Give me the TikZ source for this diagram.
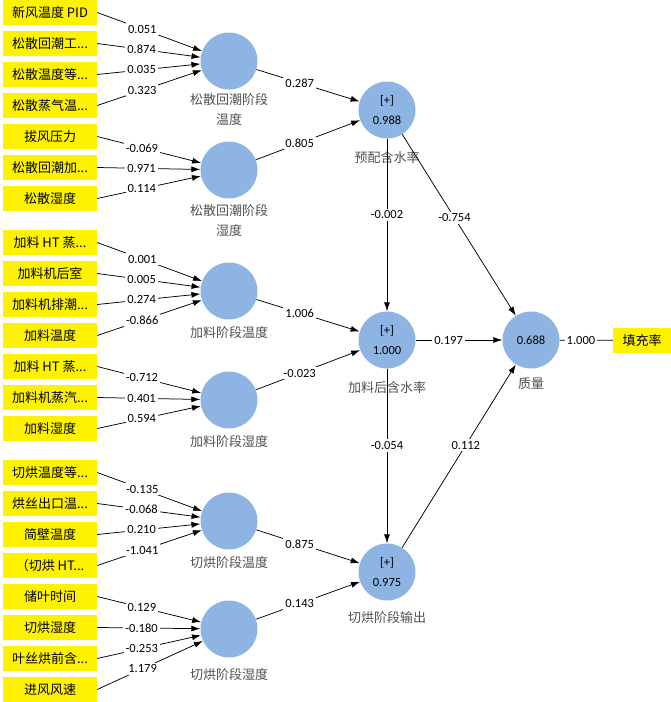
\documentclass[tikz,border=0pt]{standalone}
\usepackage{fontspec}
\setmainfont{Carlito}
\newfontfamily\cjk{Noto Sans CJK SC}
\usetikzlibrary{arrows.meta}
\definecolor{lvblue}{RGB}{142,180,227}
\definecolor{lblgray}{RGB}{80,80,80}
\begin{document}
\begin{tikzpicture}[x=1pt,y=-1pt,
  ind/.style={fill=yellow, minimum width=94pt, minimum height=25pt, inner sep=0pt, font=\cjk\fontsize{13}{15}\selectfont},
  lv/.style={circle, fill=lvblue, minimum size=57pt, inner sep=0pt, align=center, font=\fontsize{12.5}{20}\selectfont},
  coef/.style={fill=white, inner sep=2pt, font=\fontsize{12.5}{14}\selectfont},
  lvlabel/.style={text=lblgray, align=center, font=\cjk\fontsize{13}{20}\selectfont},
  arr/.style={-{Latex[length=9pt,width=6pt]}, line width=0.75pt},
  plain/.style={line width=0.75pt}]
\useasboundingbox (0,0) rectangle (671,702);

% indicator boxes
\node[ind] (a1) at (50,12.5) {新风温度 PID};
\node[ind] (a2) at (50,43.5) {松散回潮工...};
\node[ind] (a3) at (50,74.5) {松散温度等...};
\node[ind] (a4) at (50,105.5) {松散蒸气温...};
\node[ind] (a5) at (50,136.5) {拔风压力};
\node[ind] (a6) at (50,167.5) {松散回潮加...};
\node[ind] (a7) at (50,198.5) {松散湿度};

\node[ind] (b1) at (50,242.5) {加料 HT 蒸...};
\node[ind] (b2) at (50,273.5) {加料机后室};
\node[ind] (b3) at (50,304.5) {加料机排潮...};
\node[ind] (b4) at (50,335.5) {加料温度};
\node[ind] (b5) at (50,366.5) {加料 HT 蒸...};
\node[ind] (b6) at (50,397.5) {加料机蒸汽...};
\node[ind] (b7) at (50,428.5) {加料湿度};

\node[ind] (d1) at (50,472.5) {切烘温度等...};
\node[ind] (d2) at (50,503.5) {烘丝出口温...};
\node[ind] (d3) at (50,534.5) {简壁温度};
\node[ind] (d4) at (50,565.5) {（切烘 HT...};
\node[ind] (d5) at (50,596.5) {储叶时间};
\node[ind] (d6) at (50,627.5) {切烘湿度};
\node[ind] (d7) at (50,658.5) {叶丝烘前含...};
\node[ind] (d8) at (50,689.5) {进风风速};

% first-order constructs
\node[lv] (c1) at (229,61) {};
\node[lv] (c2) at (229,170) {};
\node[lv] (c3) at (229,291) {};
\node[lv] (c4) at (229,400) {};
\node[lv] (c5) at (229,521) {};
\node[lv] (c6) at (229,629) {};

\node[lvlabel] (l1) at (229,110) {松散回潮阶段\\温度};
\node[lvlabel] (l2) at (229,221) {松散回潮阶段\\湿度};
\node[lvlabel] (l3) at (229,333) {加料阶段温度};
\node[lvlabel] (l4) at (229,442) {加料阶段湿度};
\node[lvlabel] (l5) at (229,563) {切烘阶段温度};
\node[lvlabel] (l6) at (229,675) {切烘阶段湿度};

% second-order constructs
\node[lv] (m1) at (387,110) {[+]\\0.988};
\node[lv] (m2) at (387,340) {[+]\\1.000};
\node[lv] (m3) at (387,572) {[+]\\0.975};
\node[lv] (q) at (531,340) {0.688};
\node[ind, minimum width=58pt] (f) at (642,340.5) {填充率};

\node[lvlabel] (lm1) at (387,158) {预配含水率};
\node[lvlabel] (lm2) at (387,388) {加料后含水率};
\node[lvlabel] (lm3) at (387,618) {切烘阶段输出};
\node[lvlabel] (lq) at (531,384) {质量};

% indicator paths
\draw[arr] (a1.east) -- node[coef,pos=0.43]{0.051} (c1);
\draw[arr] (a2.east) -- node[coef,pos=0.43]{0.874} (c1);
\draw[arr] (a3.east) -- node[coef,pos=0.43]{0.035} (c1);
\draw[arr] (a4.east) -- node[coef,pos=0.43]{0.323} (c1);
\draw[arr] (a5.east) -- node[coef,pos=0.43]{-0.069} (c2);
\draw[arr] (a6.east) -- node[coef,pos=0.43]{0.971} (c2);
\draw[arr] (a7.east) -- node[coef,pos=0.43]{0.114} (c2);

\draw[arr] (b1.east) -- node[coef,pos=0.43]{0.001} (c3);
\draw[arr] (b2.east) -- node[coef,pos=0.43]{0.005} (c3);
\draw[arr] (b3.east) -- node[coef,pos=0.43]{0.274} (c3);
\draw[arr] (b4.east) -- node[coef,pos=0.43]{-0.866} (c3);
\draw[arr] (b5.east) -- node[coef,pos=0.43]{-0.712} (c4);
\draw[arr] (b6.east) -- node[coef,pos=0.43]{0.401} (c4);
\draw[arr] (b7.east) -- node[coef,pos=0.43]{0.594} (c4);

\draw[arr] (d1.east) -- node[coef,pos=0.43]{-0.135} (c5);
\draw[arr] (d2.east) -- node[coef,pos=0.43]{-0.068} (c5);
\draw[arr] (d3.east) -- node[coef,pos=0.43]{0.210} (c5);
\draw[arr] (d4.east) -- node[coef,pos=0.43]{-1.041} (c5);
\draw[arr] (d5.east) -- node[coef,pos=0.43]{0.129} (c6);
\draw[arr] (d6.east) -- node[coef,pos=0.43]{-0.180} (c6);
\draw[arr] (d7.east) -- node[coef,pos=0.43]{-0.253} (c6);
\draw[arr] (d8.east) -- node[coef,pos=0.43]{1.179} (c6);

% structural paths
\draw[arr] (c1) -- node[coef,pos=0.42]{0.287} (m1);
\draw[arr] (c2) -- node[coef,pos=0.42]{0.805} (m1);
\draw[arr] (c3) -- node[coef,pos=0.42]{1.006} (m2);
\draw[arr] (c4) -- node[coef,pos=0.42]{-0.023} (m2);
\draw[arr] (c5) -- node[coef,pos=0.42]{0.875} (m3);
\draw[arr] (c6) -- node[coef,pos=0.42]{0.143} (m3);

\draw[arr] (m1) -- node[coef,pos=0.44]{-0.002} (m2);
\draw[arr] (m1) -- node[coef,pos=0.46]{-0.754} (q);
\draw[arr] (m2) -- node[coef,pos=0.38]{0.197} (q);
\draw[arr] (m2) -- node[coef,pos=0.44]{-0.054} (m3);
\draw[arr] (m3) -- node[coef,pos=0.56]{0.112} (q);
\draw[plain] (q) -- node[coef,pos=0.4]{1.000} (f);
\end{tikzpicture}
\end{document}
